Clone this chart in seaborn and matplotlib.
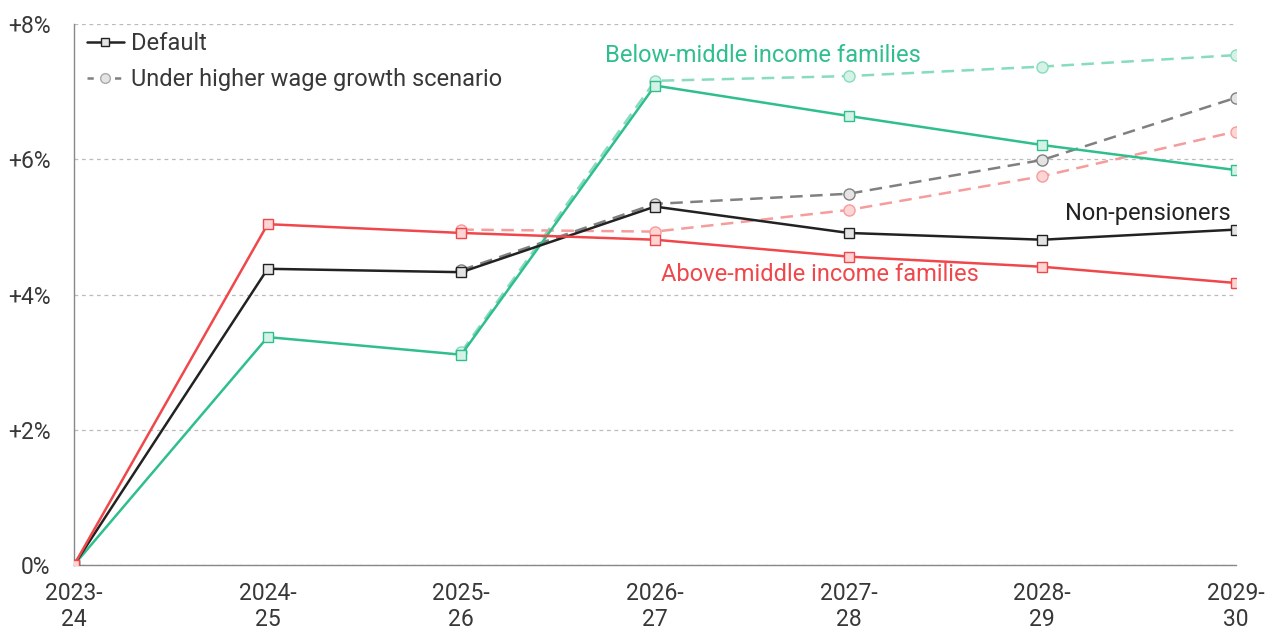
import matplotlib
matplotlib.use("Agg")
import matplotlib.pyplot as plt
import seaborn as sns
import pandas as pd
from matplotlib.lines import Line2D

years = ["2023-\n24", "2024-\n25", "2025-\n26", "2026-\n27", "2027-\n28", "2028-\n29", "2029-\n30"]

# Default projections (% change since 2023-24)
non_pensioners = [0.0, 4.38, 4.33, 5.30, 4.91, 4.81, 4.96]
above_middle = [0.0, 5.04, 4.91, 4.81, 4.56, 4.41, 4.17]
below_middle = [0.0, 3.37, 3.11, 7.09, 6.64, 6.21, 5.84]

# Higher wage growth scenario, from 2025-26 onward
scen_idx = [2, 3, 4, 5, 6]
non_pensioners_hw = [4.36, 5.34, 5.49, 5.99, 6.91]
above_middle_hw = [4.96, 4.93, 5.25, 5.75, 6.41]
below_middle_hw = [3.15, 7.16, 7.23, 7.37, 7.54]

sns.set_style("white")
plt.rcParams["font.family"] = ["Roboto", "DejaVu Sans"]

GREEN, GREEN_L, GREEN_F = "#2fbf8c", "#86dcbc", "#d4f3e6"
RED, RED_L, RED_F = "#f0474b", "#f59c9c", "#fdd5d5"
BLACK, GREY, GREY_F = "#222222", "#808080", "#e4e4e4"
TEXT = "#383838"

fig = plt.figure(figsize=(12.74, 6.32), dpi=100)
ax = fig.add_axes([74 / 1274, 1 - 565 / 632, (1236 - 74) / 1274, (565 - 24) / 632])

x_all = list(range(len(years)))

def draw(xs, ys, color, fill, dashed, marker):
    df = pd.DataFrame({"x": xs, "y": ys})
    sns.lineplot(data=df, x="x", y="y", ax=ax, color=color,
                 linestyle=(0, (5, 3)) if dashed else "-",
                 linewidth=1.8, marker=marker, markersize=7 if marker == "s" else 8,
                 markerfacecolor=fill, markeredgecolor=color, markeredgewidth=1.0,
                 zorder=3 if dashed else 4)

# scenario lines (dashed, circles)
draw(scen_idx, below_middle_hw, GREEN_L, GREEN_F, True, "o")
draw(scen_idx, above_middle_hw, RED_L, RED_F, True, "o")
draw(scen_idx, non_pensioners_hw, GREY, GREY_F, True, "o")
# default lines (solid, squares)
draw(x_all, below_middle, GREEN, GREEN_F, False, "s")
draw(x_all, non_pensioners, BLACK, GREY_F, False, "s")
draw(x_all, above_middle, RED, RED_F, False, "s")

ax.set_xlim(0, 6)
ax.set_ylim(0, 8)
ax.set_xticks(x_all)
ax.set_xticklabels(years)
ax.set_yticks([0, 2, 4, 6, 8])
ax.set_yticklabels(["0%", "+2%", "+4%", "+6%", "+8%"])
ax.set_xlabel("")
ax.set_ylabel("")
ax.tick_params(axis="x", length=6, width=0.8, color="#888888", labelsize=16.5,
               labelcolor=TEXT, pad=6)
ax.tick_params(axis="y", length=0, labelsize=16.5, labelcolor=TEXT, pad=17)
ax.grid(axis="y", color="#bbbbbb", linestyle=(0, (3, 3)), linewidth=0.9)
ax.set_axisbelow(True)
for side in ["top", "right"]:
    ax.spines[side].set_visible(False)
for side in ["left", "bottom"]:
    ax.spines[side].set_color("#888888")
    ax.spines[side].set_linewidth(1.0)

# series labels
ax.text(2.74, 7.53, "Below-middle income families", color=GREEN, fontsize=17, ha="left", va="center")
ax.text(5.97, 5.2, "Non-pensioners", color=BLACK, fontsize=17, ha="right", va="center")
ax.text(3.03, 4.29, "Above-middle income families", color=RED, fontsize=17, ha="left", va="center")

handles = [
    Line2D([0], [0], color=BLACK, linewidth=1.8, marker="s", markersize=6,
           markerfacecolor=GREY_F, markeredgecolor=BLACK, markeredgewidth=1.0),
    Line2D([0], [0], color=GREY, linewidth=1.8, linestyle=(0, (2.5, 3)), marker="o", markersize=7,
           markerfacecolor=GREY_F, markeredgecolor="#aaaaaa", markeredgewidth=1.0),
]
ax.legend(handles, ["Default", "Under higher wage growth scenario"], loc="upper left",
          bbox_to_anchor=(0.004, 1.0), frameon=False, fontsize=17, handlelength=1.55,
          handletextpad=0.3, labelspacing=0.55, borderaxespad=0.0, borderpad=0.35,
          labelcolor=TEXT)

fig.savefig("out.png", dpi=100)
